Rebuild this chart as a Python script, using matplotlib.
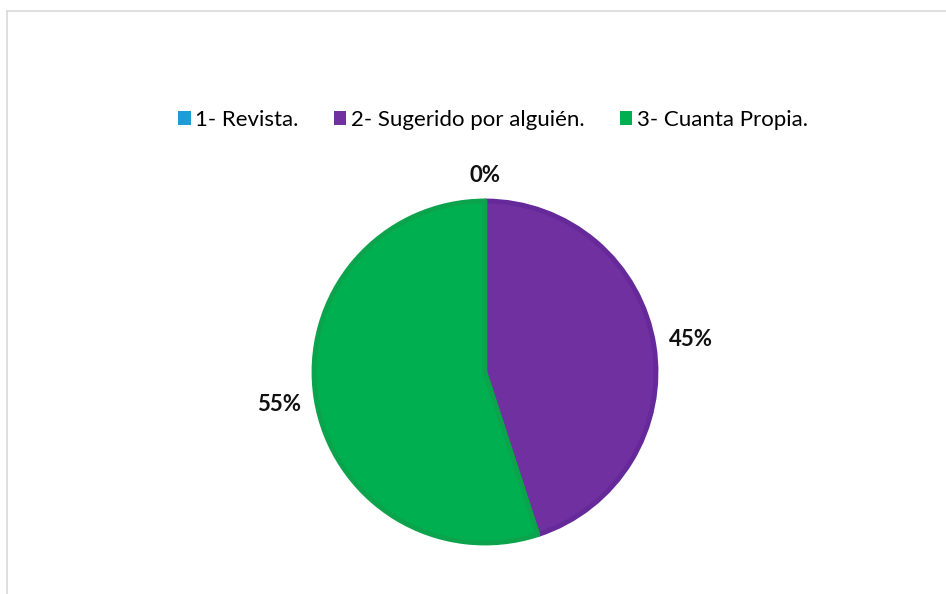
import matplotlib.pyplot as plt
from matplotlib.lines import Line2D

categorias = ['1- Revista.', '2- Sugerido por alguién.', '3- Cuanta Propia.']
porcentajes = [0, 45, 55]
colores = ['#1F9BD7', '#7030A0', '#00B050']
bordes = ['#1A88BE', '#65299A', '#0BA44C']

plt.rcParams['font.family'] = ['Lato', 'DejaVu Sans']

fig = plt.figure(figsize=(9.46, 5.94), dpi=100)

# chart frame (light grey, open to the right and bottom)
fig.add_artist(Line2D([7 / 946, 1.0], [1 - 11 / 594, 1 - 11 / 594], color='#D9D9D9', lw=1.2))
fig.add_artist(Line2D([7 / 946, 7 / 946], [0.0, 1 - 11 / 594], color='#D9D9D9', lw=1.2))

cx, cy, r = 485, 372, 171
ax = fig.add_axes([(cx - r) / 946, (594 - cy - r) / 594, 2 * r / 946, 2 * r / 594])

wedges, textos, pcts = ax.pie(
    porcentajes, colors=colores, startangle=90, counterclock=False,
    autopct='%1.0f%%', pctdistance=1.22,
    wedgeprops=dict(linewidth=3.5),
    textprops=dict(fontsize=16, fontweight='bold', color='#111111'))
for w, b in zip(wedges, bordes):
    w.set_edgecolor(b)
    w.set_joinstyle('round')

# the empty slice's label sits just over the top of the pie
x0, y0 = pcts[0].get_position()
pcts[0].set_position((x0, 1.15))

ax.set_xlim(-1, 1)
ax.set_ylim(-1, 1)
ax.set_aspect('auto')

fig.legend(wedges, categorias, loc='center', bbox_to_anchor=(493 / 946, 1 - 120 / 594),
           ncol=3, frameon=False, fontsize=16, handlelength=0.55, handleheight=0.55,
           handletextpad=0.2, columnspacing=1.6)
for h, c in zip(fig.legends[0].legend_handles, colores):
    h.set_edgecolor(c)
    h.set_linewidth(0)

fig.savefig('out.png', dpi=100, facecolor='white')
